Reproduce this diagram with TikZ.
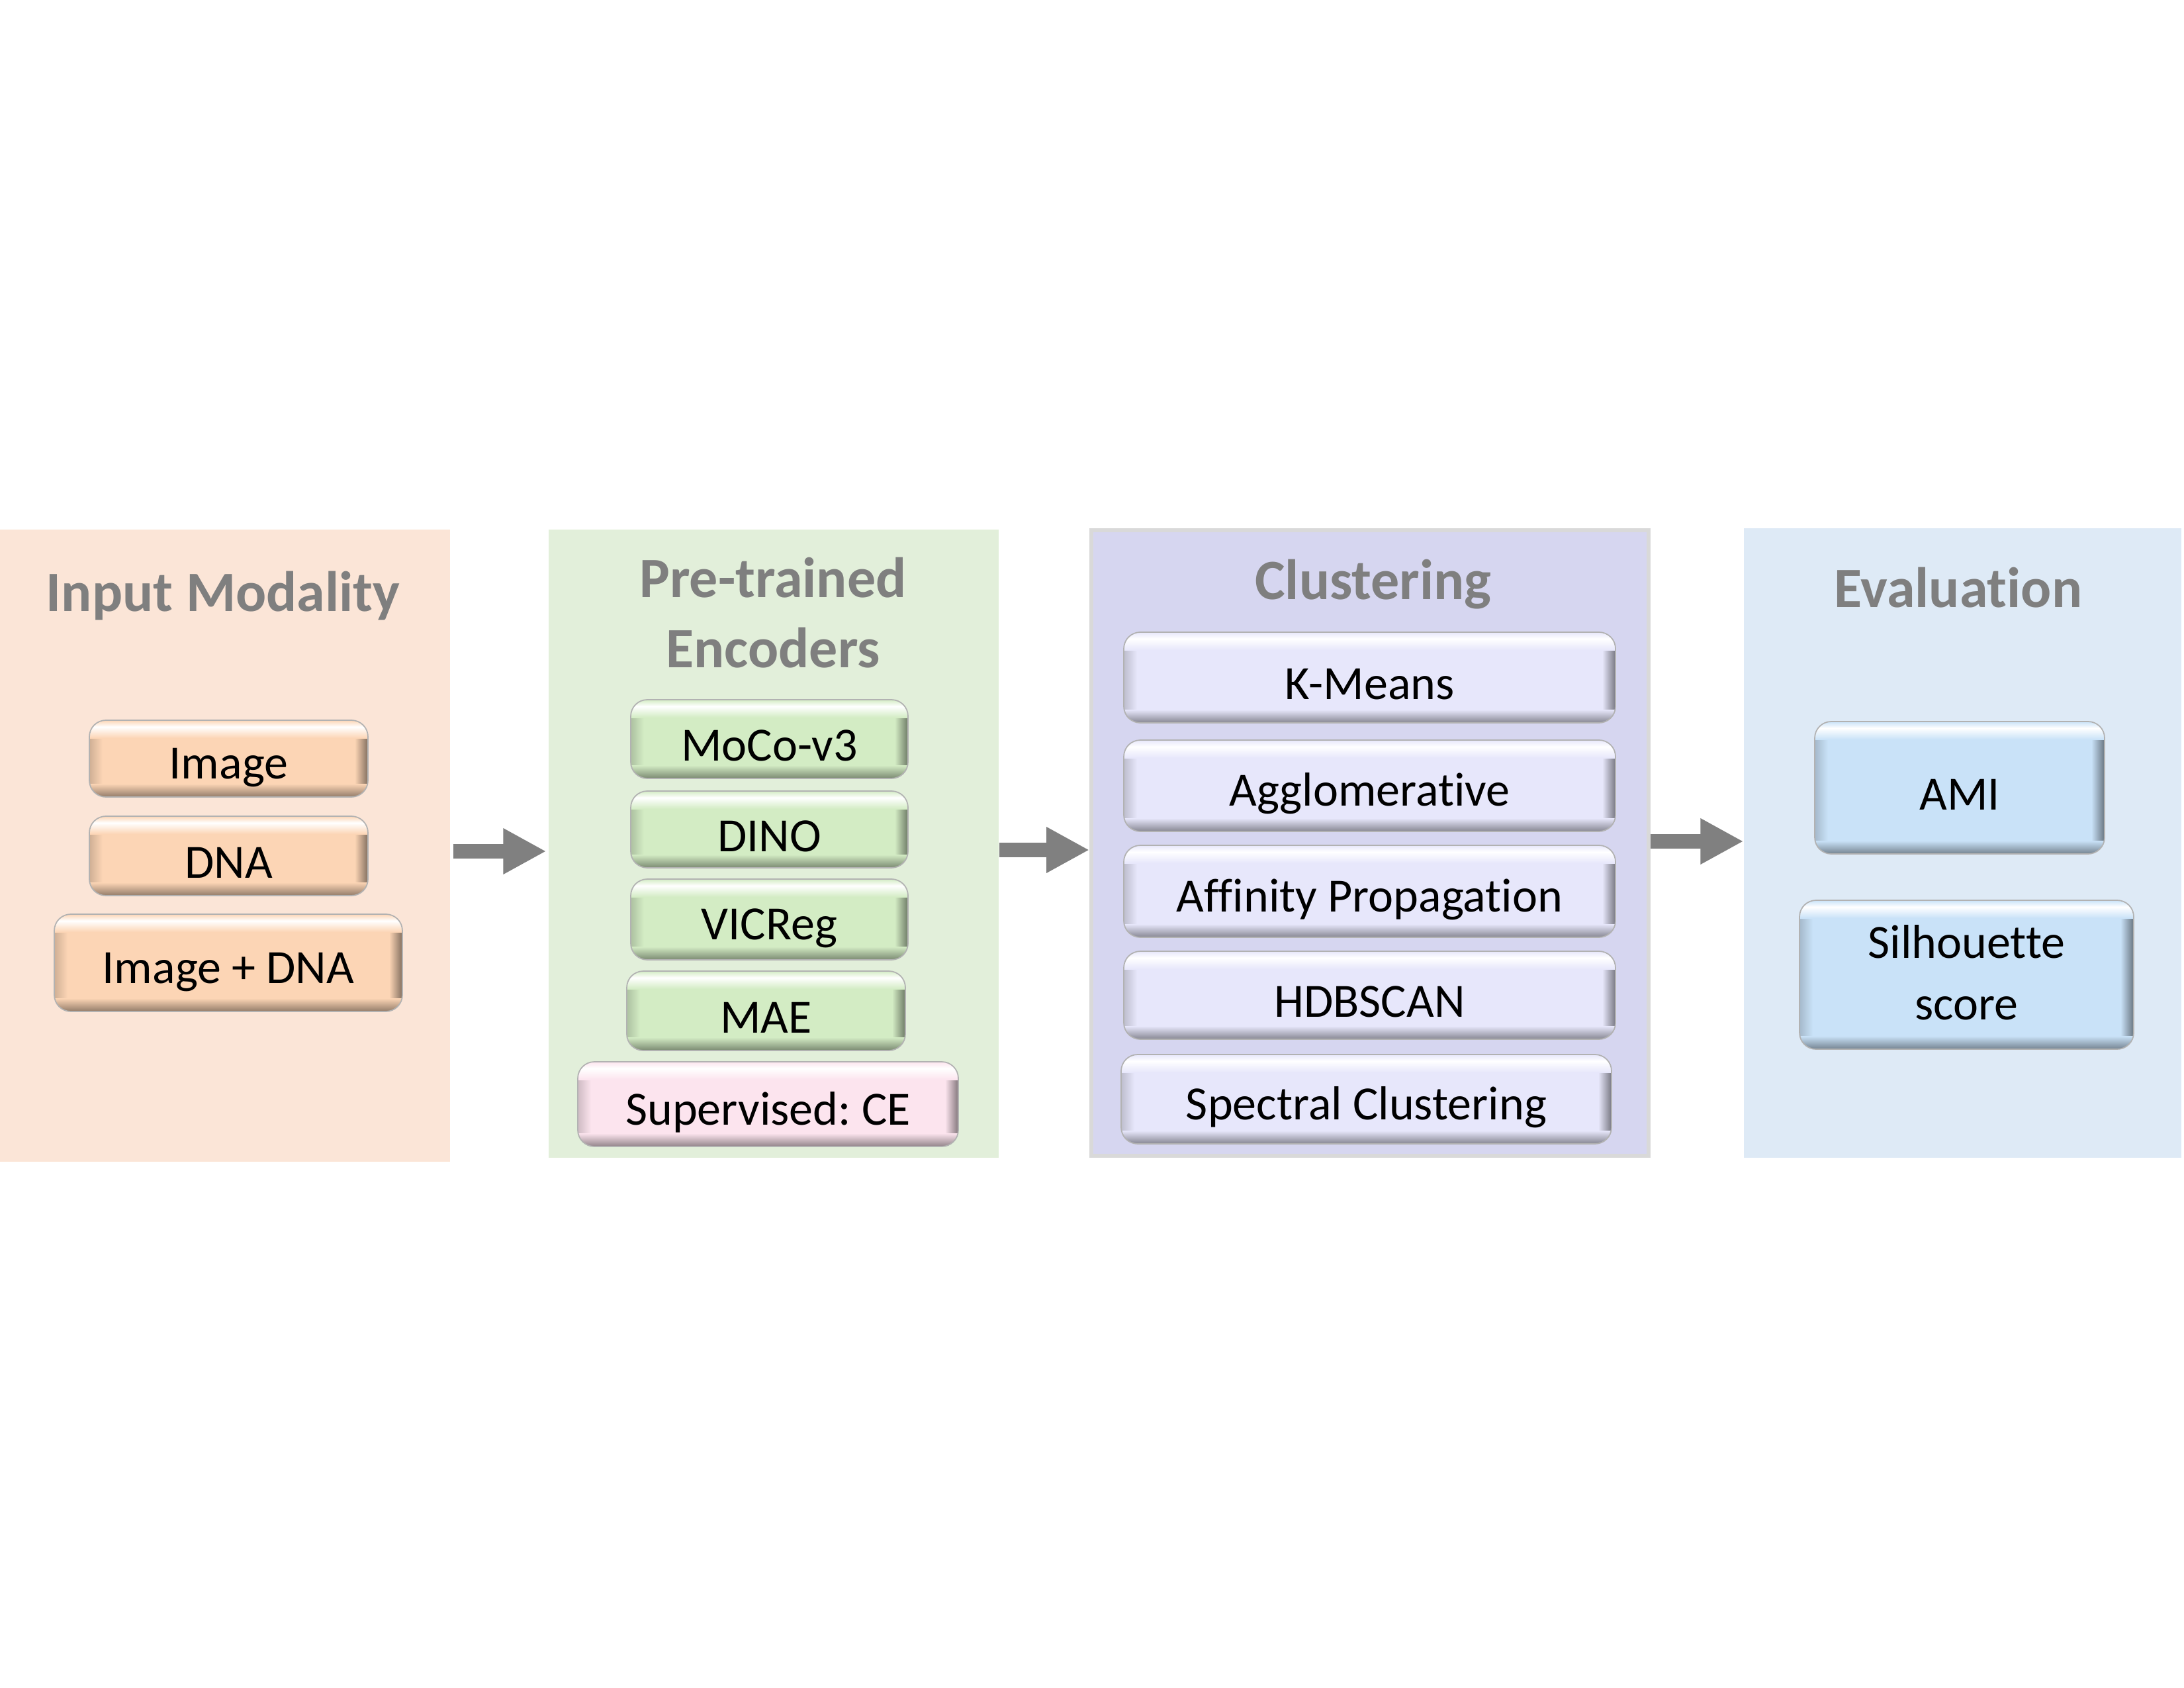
\documentclass[tikz,border=0pt]{standalone}
\usepackage{fontspec}
\setmainfont{Carlito}[Ligatures=NoCommon]
\frenchspacing
\usetikzlibrary{arrows.meta}

\definecolor{peachbg}{HTML}{FBE5D7}
\definecolor{greenbg}{HTML}{E2EFDA}
\definecolor{lilacbg}{HTML}{D6D6F0}
\definecolor{bluebg}{HTML}{DEEAF6}
\definecolor{peachbox}{HTML}{FCD5B5}
\definecolor{greenbox}{HTML}{D3ECC4}
\definecolor{pinkbox}{HTML}{FCE4EE}
\definecolor{lilacbox}{HTML}{E7E7FB}
\definecolor{bluebox}{HTML}{C9E2F8}
\definecolor{headgray}{HTML}{7F7F7F}
\definecolor{arrowgray}{HTML}{808080}

\newcommand{\boxstrut}{\rule[-2pt]{0pt}{23pt}}

\tikzset{
  panel/.style={fill=#1, draw=none, inner sep=0pt},
  heading/.style={text=headgray, font=\fontsize{24.5}{30.2}\selectfont\bfseries, align=center},
  bevel/.style={rounded corners=0.25cm, fill=#1, draw=black!30, line width=0.5pt,
    inner sep=0pt, align=center, font=\fontsize{20.5}{26.4}\selectfont,
    execute at begin node=\boxstrut, execute at end node=\boxstrut,
    path picture={
      \coordinate (nw) at (path picture bounding box.north west);
      \coordinate (se) at (path picture bounding box.south east);
      \shade[sharp corners, left color=#1!82!black, right color=#1] (nw) rectangle ([xshift=0.2cm]nw |- se);
      \shade[sharp corners, left color=#1, right color=#1!52!black] ([xshift=-0.2cm]se |- nw) rectangle (se);
      \shade[sharp corners, top color=#1, bottom color=#1!58!black] ([yshift=0.2cm]nw |- se) rectangle (se);
      \shade[sharp corners, top color=#1, bottom color=white] (nw) rectangle ([yshift=-0.1cm]se |- nw);
      \shade[sharp corners, top color=white, bottom color=#1] ([yshift=-0.1cm]nw) rectangle ([yshift=-0.27cm]se |- nw);
    }},
  flow/.style={draw=arrowgray, line width=0.22cm, -{Triangle[length=0.65cm,width=0.65cm]}}
}

\begin{document}
\begin{tikzpicture}
    \useasboundingbox (0,0) rectangle (33,-25.5);

    % Input modality
    \node[panel=peachbg, minimum width=6.80cm, minimum height=9.55cm] (inmod) at (3.40,-12.775) {};
    \node[heading] (inmodtitle) at (3.37,-9.00) {Input Modality};
    \node[bevel=peachbox, minimum width=4.21cm, minimum height=1.16cm] (image) at (3.455,-11.46) {Image};
    \node[bevel=peachbox, minimum width=4.21cm, minimum height=1.20cm] (dna) at (3.455,-12.93) {DNA};
    \node[bevel=peachbox, minimum width=5.26cm, minimum height=1.47cm] (imgdna) at (3.45,-14.545) {Image + DNA};

    % Pre-trained encoders
    \node[panel=greenbg, minimum width=6.80cm, minimum height=9.49cm] (enc) at (11.69,-12.745) {};
    \node[heading] (enctitle) at (11.68,-9.26) {Pre-trained\\Encoders};
    \node[bevel=greenbox, minimum width=4.19cm, minimum height=1.19cm] (moco) at (11.625,-11.165) {MoCo-v3};
    \node[bevel=greenbox, minimum width=4.19cm, minimum height=1.16cm] (dino) at (11.625,-12.53) {DINO};
    \node[bevel=greenbox, minimum width=4.19cm, minimum height=1.22cm] (vicreg) at (11.625,-13.89) {VICReg};
    \node[bevel=greenbox, minimum width=4.21cm, minimum height=1.20cm] (mae) at (11.575,-15.27) {MAE};
    \node[bevel=pinkbox, minimum width=5.75cm, minimum height=1.28cm] (ce) at (11.605,-16.68) {Supervised: CE};

    % Clustering
    \node[panel=lilacbg, draw=black!15, line width=0.06cm, minimum width=8.42cm, minimum height=9.45cm] (clust) at (20.70,-12.735) {};
    \node[heading] (clusttitle) at (20.75,-8.83) {Clustering};
    \node[bevel=lilacbox, minimum width=7.43cm, minimum height=1.37cm] (kmeans) at (20.695,-10.235) {K-Means};
    \node[bevel=lilacbox, minimum width=7.43cm, minimum height=1.38cm] (agglo) at (20.695,-11.87) {Agglomerative};
    \node[bevel=lilacbox, minimum width=7.43cm, minimum height=1.39cm] (affprop) at (20.695,-13.465) {Affinity Propagation};
    \node[bevel=lilacbox, minimum width=7.43cm, minimum height=1.33cm] (hdbscan) at (20.695,-15.035) {HDBSCAN};
    \node[bevel=lilacbox, minimum width=7.41cm, minimum height=1.35cm] (spectral) at (20.645,-16.605) {Spectral Clustering};

    % Evaluation
    \node[panel=bluebg, minimum width=6.61cm, minimum height=9.51cm] (evalp) at (29.655,-12.735) {};
    \node[heading] (evaltitle) at (29.59,-8.88) {Evaluation};
    \node[bevel=bluebox, minimum width=4.38cm, minimum height=2.00cm] (ami) at (29.61,-11.90) {AMI};
    \node[bevel=bluebox, minimum width=5.05cm, minimum height=2.25cm] (silh) at (29.715,-14.725) {Silhouette\\score};

    % Flow between stages
    \draw[flow, shorten <=0.04cm, shorten >=0.03cm] (inmod.east |- 0,-12.86) -- (enc.west |- 0,-12.86);
    \draw[flow] (enc.east |- 0,-12.84) -- (clust.west |- 0,-12.84);
    \draw[flow] (clust.east |- 0,-12.71) -- (evalp.west |- 0,-12.71);
\end{tikzpicture}
\end{document}
